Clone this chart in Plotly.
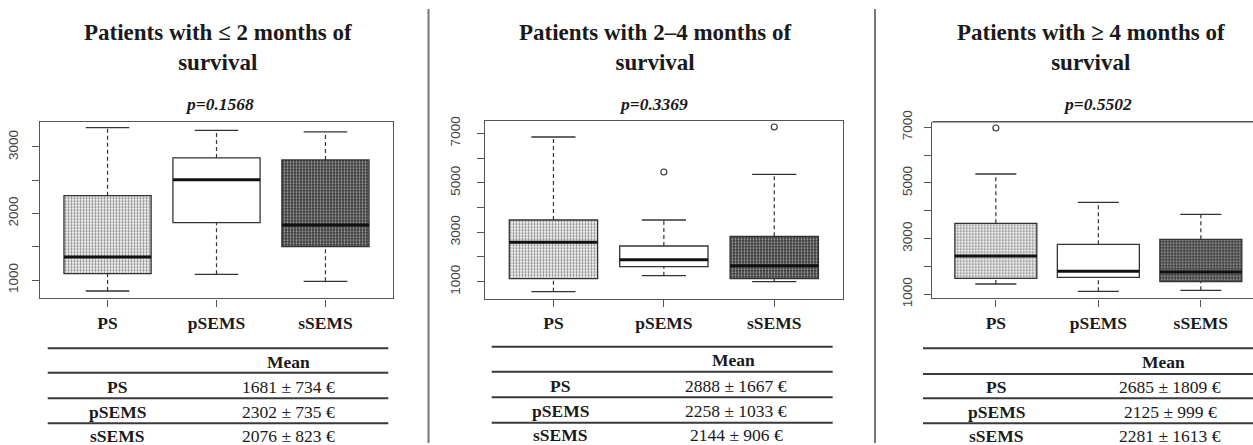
import plotly.graph_objects as go

W, H = 1253, 445

groups = ["PS", "pSEMS", "sSEMS"]

# Panel 1: <= 2 months
p1_lo = [835, 1085, 980]
p1_q1 = [1095, 1862, 1501]
p1_med = [1346, 2508, 1827]
p1_q3 = [2268, 2835, 2805]
p1_hi = [3290, 3251, 3226]
p1_out_x = []
p1_out_y = []

# Panel 2: 2-4 months
p2_lo = [596, 1243, 1000]
p2_q1 = [1121, 1607, 1121]
p2_med = [2594, 1890, 1647]
p2_q3 = [3496, 2444, 2837]
p2_hi = [6853, 3496, 5345]
p2_out_x = ["pSEMS", "sSEMS"]
p2_out_y = [5437, 7258]

# Panel 3: >= 4 months
p3_lo = [1370, 1108, 1144]
p3_q1 = [1575, 1611, 1453]
p3_med = [2376, 1826, 1801]
p3_q3 = [3551, 2797, 2976]
p3_hi = [5323, 4306, 3875]
p3_out_x = ["PS"]
p3_out_y = [6976]

titles = ["Patients with \u2264 2 months of<br>survival",
          "Patients with 2\u20134 months of<br>survival",
          "Patients with \u2265 4 months of<br>survival"]
pvalues = ["p=0.1568", "p=0.3369", "p=0.5502"]

mean_p1 = ["1681 \u00b1 734 \u20ac", "2302 \u00b1 735 \u20ac", "2076 \u00b1 823 \u20ac"]
mean_p2 = ["2888 \u00b1 1667 \u20ac", "2258 \u00b1 1033 \u20ac", "2144 \u00b1 906 \u20ac"]
mean_p3 = ["2685 \u00b1 1809 \u20ac", "2125 \u00b1 999 \u20ac", "2281 \u00b1 1613 \u20ac"]

y_ranges = [[725, 3380], [300, 7513], [856, 7202]]
y_ticks = [[1000, 1500, 2000, 2500, 3000],
           [1000, 2000, 3000, 4000, 5000, 6000, 7000],
           [1000, 2000, 3000, 4000, 5000, 6000, 7000]]
y_ticktext = [["1000", "", "2000", "", "3000"],
              ["1000", "", "3000", "", "5000", "", "7000"],
              ["1000", "", "3000", "", "5000", "", "7000"]]

SERIF = "Liberation Serif"
SANS = "Liberation Sans"
INK = "#1a1a1a"
LINE = "#333333"


def px(x):
    return x / W


def py(y):
    return 1 - y / H


# layout geometry (pixels)
panels_px = [
    dict(x0=40, x1=393, y0=121.7, y1=298.3, xr=[0.38, 3.62], mirror=True,
         title_x=218, p_x=219, tab_x0=47.7, tab_x1=388.3, tab_lines=[348.3, 372.7, 398.3, 423.3],
         lab_x=117, val_x=288, mean_x=288, standoff=8),
    dict(x0=485, x1=842.7, y0=120.7, y1=299, xr=[0.38, 3.62], mirror=True,
         title_x=655, p_x=653, tab_x0=491.7, tab_x1=832.7, tab_lines=[346.7, 371.7, 397.3, 422.7],
         lab_x=560, val_x=736, mean_x=733, standoff=11),
    dict(x0=932.3, x1=1253, y0=121.7, y1=298.3, xr=[0.38, 0.38 + (1253 - 932.3) / 102.5], mirror=False,
         title_x=1091, p_x=1097, tab_x0=923, tab_x1=1253, tab_lines=[348.3, 374, 398.3, 423.3],
         lab_x=996, val_x=1170, mean_x=1163, standoff=7),
]

data_sets = [
    (p1_lo, p1_q1, p1_med, p1_q3, p1_hi, p1_out_x, p1_out_y),
    (p2_lo, p2_q1, p2_med, p2_q3, p2_hi, p2_out_x, p2_out_y),
    (p3_lo, p3_q1, p3_med, p3_q3, p3_hi, p3_out_x, p3_out_y),
]
means = [mean_p1, mean_p2, mean_p3]

patterns = [
    dict(shape=".", bgcolor="#ffffff", fgcolor="#8a8a8a", size=3, solidity=0.45),
    dict(shape="", bgcolor="#ffffff", fgcolor="#ffffff"),
    dict(shape=".", bgcolor="#3a3a3a", fgcolor="#a8a8a8", size=3, solidity=0.35),
]

fig = go.Figure()
layout = dict(width=W, height=H, margin=dict(l=0, r=0, t=0, b=0, pad=0, autoexpand=False),
              paper_bgcolor="white", plot_bgcolor="white", showlegend=False,
              barmode="overlay", template="none")
annotations = []
shapes = []

pos = [1, 2, 3]
for i, (pp, ds) in enumerate(zip(panels_px, data_sets)):
    lo, q1, med, q3, hi, ox, oy = ds
    xa = "x" if i == 0 else f"x{i+1}"
    ya = "y" if i == 0 else f"y{i+1}"
    xkey = "xaxis" if i == 0 else f"xaxis{i+1}"
    ykey = "yaxis" if i == 0 else f"yaxis{i+1}"

    # boxes (with fill patterns)
    for j in range(3):
        fig.add_trace(go.Bar(
            x=[pos[j]], y=[q3[j] - q1[j]], base=[q1[j]], width=0.8,
            marker=dict(color=patterns[j]["bgcolor"],
                        pattern=patterns[j],
                        line=dict(color=LINE, width=1.3)),
            xaxis=xa, yaxis=ya, hoverinfo="skip"))
    for j in range(3):
        # whiskers dashed
        fig.add_trace(go.Scatter(
            x=[pos[j], pos[j], None, pos[j], pos[j]],
            y=[q3[j], hi[j], None, lo[j], q1[j]],
            mode="lines", line=dict(color=LINE, width=1.2, dash="4px,3px"),
            xaxis=xa, yaxis=ya, hoverinfo="skip"))
        # caps
        fig.add_trace(go.Scatter(
            x=[pos[j] - 0.2, pos[j] + 0.2, None, pos[j] - 0.2, pos[j] + 0.2],
            y=[hi[j], hi[j], None, lo[j], lo[j]],
            mode="lines", line=dict(color=LINE, width=1.3),
            xaxis=xa, yaxis=ya, hoverinfo="skip"))
        # median
        fig.add_trace(go.Scatter(
            x=[pos[j] - 0.4, pos[j] + 0.4], y=[med[j], med[j]],
            mode="lines", line=dict(color="#111111", width=3),
            xaxis=xa, yaxis=ya, hoverinfo="skip"))
    # outliers
    if ox:
        fig.add_trace(go.Scatter(
            x=[pos[groups.index(g)] for g in ox], y=oy, mode="markers",
            marker=dict(symbol="circle-open", size=6, color=LINE, line=dict(width=1.1)),
            xaxis=xa, yaxis=ya, hoverinfo="skip"))

    layout[xkey] = dict(
        domain=[px(pp["x0"]), px(pp["x1"])], range=pp["xr"], anchor=ya, automargin=False,
        tickmode="array", tickvals=pos, ticktext=groups,
        ticks="outside", ticklen=7, tickwidth=1.2, tickcolor="#555555",
        showline=True, linecolor="#555555", linewidth=1.4, mirror=pp["mirror"],
        showgrid=False, zeroline=False, ticklabelstandoff=1,
        tickfont=dict(family=SERIF, size=17.5, color=INK, weight="bold"))
    layout[ykey] = dict(
        domain=[py(pp["y1"]), py(pp["y0"])], range=y_ranges[i], anchor=xa, automargin=False,
        tickmode="array", tickvals=y_ticks[i], ticktext=y_ticktext[i],
        ticks="outside", ticklen=7, tickwidth=1.2, tickcolor="#555555",
        showline=True, linecolor="#555555", linewidth=1.4, mirror=pp["mirror"],
        showgrid=False, zeroline=False, tickangle=-90, ticklabelstandoff=pp["standoff"],
        tickfont=dict(family=SANS, size=13.5, color="#444444"))
    if not pp["mirror"]:
        # top border only for clipped panel
        shapes.append(dict(type="line", xref="paper", yref="paper",
                           x0=px(pp["x0"]), x1=1, y0=py(pp["y0"]), y1=py(pp["y0"]),
                           line=dict(color="#555555", width=1.4)))

    # title
    annotations.append(dict(text=titles[i], x=px(pp["title_x"]), y=py(48), xref="paper", yref="paper",
                            showarrow=False, xanchor="center", yanchor="middle",
                            font=dict(family=SERIF, size=23, color=INK, weight="bold")))
    # p value
    annotations.append(dict(text=f"<i>{pvalues[i]}</i>", x=px(pp["p_x"]), y=py(104.5), xref="paper", yref="paper",
                            showarrow=False, xanchor="center", yanchor="middle",
                            font=dict(family=SERIF, size=17.5, color=INK, weight="bold")))
    # table lines
    for ly in pp["tab_lines"]:
        shapes.append(dict(type="line", xref="paper", yref="paper",
                           x0=px(pp["tab_x0"]), x1=px(pp["tab_x1"]), y0=py(ly), y1=py(ly),
                           line=dict(color="#3a3a3a", width=2)))
    tl = pp["tab_lines"]
    annotations.append(dict(text="Mean", x=px(pp["mean_x"]), y=py((tl[0] + tl[1]) / 2 + 1), xref="paper", yref="paper",
                            showarrow=False, xanchor="center", yanchor="middle",
                            font=dict(family=SERIF, size=17.5, color=INK, weight="bold")))
    row_y = [(tl[1] + tl[2]) / 2 + 1, (tl[2] + tl[3]) / 2 + 1, tl[3] + 12.5]
    for r in range(3):
        annotations.append(dict(text=groups[r], x=px(pp["lab_x"]), y=py(row_y[r]), xref="paper", yref="paper",
                                showarrow=False, xanchor="center", yanchor="middle",
                                font=dict(family=SERIF, size=17.5, color=INK, weight="bold")))
        annotations.append(dict(text=means[i][r], x=px(pp["val_x"]), y=py(row_y[r]), xref="paper", yref="paper",
                                showarrow=False, xanchor="center", yanchor="middle",
                                font=dict(family=SERIF, size=17.5, color=INK)))

# vertical separators
for sx in [428.5, 875]:
    shapes.append(dict(type="line", xref="paper", yref="paper",
                       x0=px(sx), x1=px(sx), y0=py(9), y1=py(443),
                       line=dict(color="#777777", width=2)))

layout["annotations"] = annotations
layout["shapes"] = shapes
fig.update_layout(**layout)
fig.write_html("out.html", config={"displayModeBar": False},
               post_script="document.body.style.margin='0';document.body.style.padding='0';"
                           "document.body.style.overflow='hidden';")
